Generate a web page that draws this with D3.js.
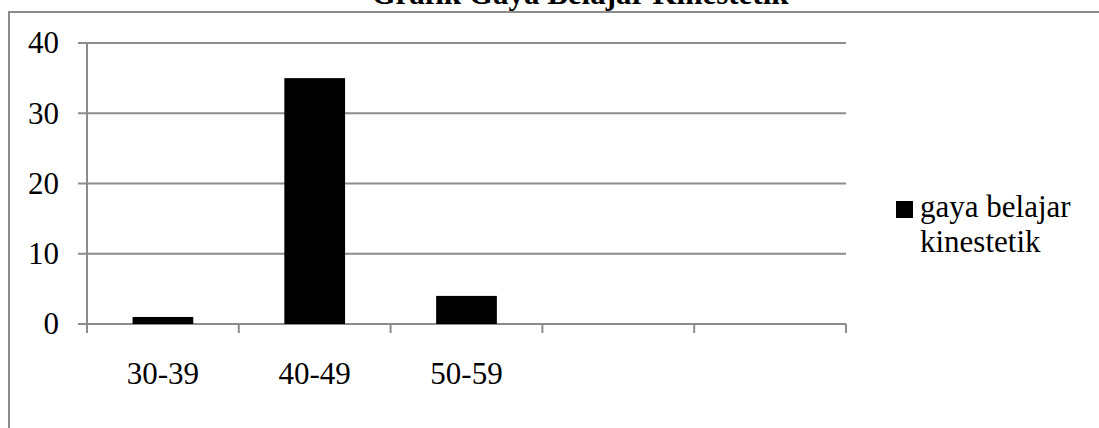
<!DOCTYPE html>
<html>
<head>
<meta charset="utf-8">
<script src="https://cdn.jsdelivr.net/npm/d3@7"></script>
<style>
  html, body { margin: 0; padding: 0; background: #fff; }
  svg { display: block; }
</style>
</head>
<body>
<svg id="chart"></svg>
<script>
const categories = ['30-39', '40-49', '50-59', '', ''];
const values = [1, 35, 4, null, null];
const yTicks = [0, 10, 20, 30, 40];
const seriesName = ['gaya belajar', 'kinestetik'];
const title = 'Grafik Gaya Belajar Kinestetik';

const W = 1099, H = 428;
const FONT = 'Liberation Serif';
const margin = { left: 87, top: 43, right: 253, bottom: 104 };
const plotW = W - margin.left - margin.right;
const plotH = H - margin.top - margin.bottom;
const grey = '#8c8c8c';

const svg = d3.select('#chart').attr('width', W).attr('height', H);

// outer chart border (runs off the right and bottom edges)
svg.append('rect')
  .attr('x', 9).attr('y', 12).attr('width', W + 10).attr('height', H + 10)
  .attr('fill', 'none').attr('stroke', grey).attr('stroke-width', 2);

svg.append('text')
  .attr('x', 580).attr('y', 4)
  .attr('text-anchor', 'middle')
  .style('font-family', FONT).style('font-size', '31px').style('font-weight', 'bold')
  .text(title);

const x = d3.scaleBand().domain(d3.range(categories.length))
  .range([0, plotW]).paddingInner(0.6).paddingOuter(0.3);
const y = d3.scaleLinear().domain([0, 40]).range([plotH, 0]);

const g = svg.append('g').attr('transform', `translate(${margin.left},${margin.top})`);

// gridlines with short left ticks
g.append('g').selectAll('line').data(yTicks).enter().append('line')
  .attr('x1', -9).attr('x2', plotW)
  .attr('y1', d => y(d)).attr('y2', d => y(d))
  .attr('stroke', grey).attr('stroke-width', 2);

// y axis line
g.append('line').attr('x1', 0).attr('x2', 0).attr('y1', 0).attr('y2', plotH)
  .attr('stroke', grey).attr('stroke-width', 2);

const yAxis = g.append('g')
  .call(d3.axisLeft(y).tickValues(yTicks).tickSize(0).tickPadding(28));
yAxis.select('.domain').remove();
yAxis.selectAll('text').style('font-family', FONT).style('font-size', '31px').attr('fill', '#000');

// category boundary ticks
const step = x.step();
const bounds = d3.range(categories.length + 1).map(i => i * step);
g.append('g').selectAll('line').data(bounds).enter().append('line')
  .attr('x1', d => d).attr('x2', d => d)
  .attr('y1', plotH).attr('y2', plotH + 9)
  .attr('stroke', grey).attr('stroke-width', 2);

const xAxis = g.append('g').attr('transform', `translate(0,${plotH})`)
  .call(d3.axisBottom(x).tickSize(0).tickPadding(38).tickFormat(i => categories[i]));
xAxis.select('.domain').remove();
xAxis.selectAll('text').style('font-family', FONT).style('font-size', '31px').attr('fill', '#000');

// bars
g.append('g').selectAll('rect')
  .data(values.map((v, i) => ({ i, v })).filter(d => d.v != null))
  .enter().append('rect')
  .attr('x', d => x(d.i)).attr('width', x.bandwidth())
  .attr('y', d => y(d.v)).attr('height', d => plotH - y(d.v))
  .attr('fill', '#000');

// legend
const lg = svg.append('g').attr('transform', 'translate(896,201)');
lg.append('rect').attr('width', 17).attr('height', 17).attr('fill', '#000');
lg.selectAll('text').data(seriesName).enter().append('text')
  .attr('x', 24).attr('y', (d, i) => 16 + i * 35)
  .style('font-family', FONT).style('font-size', '31px')
  .text(d => d);
</script>
</body>
</html>
